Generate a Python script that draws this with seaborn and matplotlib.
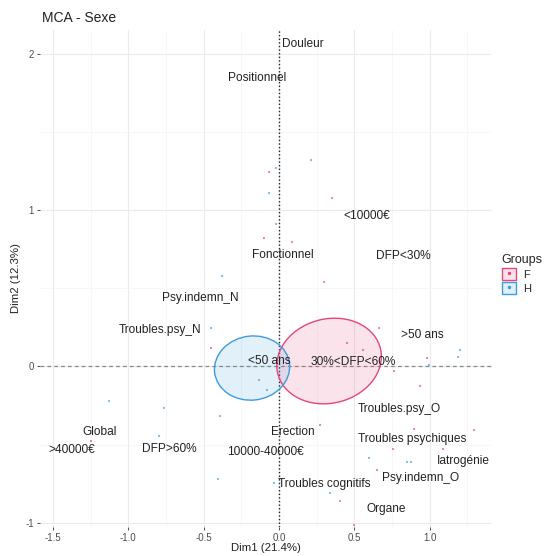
import matplotlib
matplotlib.use("Agg")
import matplotlib.pyplot as plt
import seaborn as sns
import pandas as pd
from matplotlib.patches import Ellipse, Patch
from matplotlib.lines import Line2D

# Variable categories (MCA coordinates on Dim1 / Dim2)
cat_labels = ["Douleur", "Positionnel", "<10000€", "Fonctionnel", "DFP<30%",
              "Psy.indemn_N", "Troubles.psy_N", ">50 ans", "<50 ans", "30%<DFP<60%",
              "Troubles.psy_O", "Global", "Erection", "Troubles psychiques", ">40000€",
              "DFP>60%", "10000-40000€", "Iatrogénie", "Troubles cognitifs",
              "Psy.indemn_O", "Organe"]
cat_dim1 = [0.159, -0.146, 0.584, 0.026, 0.823, -0.524, -0.790, 0.949, -0.066, 0.491,
            0.796, -1.188, 0.093, 0.883, -1.374, -0.730, -0.093, 1.221, 0.299,
            0.936, 0.710]
cat_dim2 = [2.063, 1.846, 0.963, 0.713, 0.707, 0.438, 0.234, 0.201, 0.035, 0.029,
            -0.272, -0.419, -0.419, -0.464, -0.534, -0.528, -0.547, -0.605, -0.749,
            -0.713, -0.912]

# Individuals coloured by sex
ind_dim1 = [0.212, -0.066, -0.020, -0.066, 0.352, -0.020, -0.100, -0.378, 0.299, -0.451,
            -0.451, -0.133, -0.080, -0.392, -0.405, -1.128, -0.763, -1.248, -0.796, 0.451,
            0.664, 0.557, 0.982, 0.995, 1.201, 1.188, 0.763, 0.936, 0.272, 0.896,
            1.294, 0.756, 1.088, 0.597, 0.849, 0.876, 0.650, 0.338, 0.405, -0.033,
            0.498, 0.086]
ind_dim2 = [1.321, 1.244, 1.270, 1.110, 1.078, 0.912, 0.822, 0.579, 0.541, 0.246,
            0.118, -0.086, -0.150, -0.317, -0.720, -0.221, -0.265, -0.477, -0.444, 0.150,
            0.246, 0.106, 0.054, 0.010, 0.106, 0.061, -0.029, -0.125, -0.374, -0.400,
            -0.406, -0.528, -0.528, -0.585, -0.611, -0.611, -0.662, -0.809, -0.861, -0.745,
            -1.014, 0.796]
ind_group = ["H", "F", "H", "H", "F", "H", "F", "H", "F", "H",
             "F", "H", "H", "H", "H", "H", "H", "F", "H", "F",
             "F", "F", "F", "H", "H", "H", "F", "F", "F", "F",
             "F", "F", "F", "H", "H", "H", "F", "H", "F", "H",
             "F", "F"]

# Confidence ellipses per group: centre, width, height, angle
groups = ["F", "H"]
ell_cx = [0.332, -0.179]
ell_cy = [0.035, -0.010]
ell_w = [0.70, 0.50]
ell_h = [0.54, 0.41]
ell_angle = [12, 6]
group_colors = {"F": "#E5457D", "H": "#3D9BE0"}

sns.set_theme(style="whitegrid")
plt.rcParams['font.family'] = ['Liberation Sans', 'DejaVu Sans']

fig = plt.figure(figsize=(5.5, 5.56), dpi=100)
ax = fig.add_axes([40 / 550, 1 - 527 / 556, 452 / 550, 497 / 556])

ind = pd.DataFrame({"Dim1": ind_dim1, "Dim2": ind_dim2, "Groups": ind_group})

# ellipses
for g, cx, cy, w, h, a in zip(groups, ell_cx, ell_cy, ell_w, ell_h, ell_angle):
    c = group_colors[g]
    ax.add_patch(Ellipse((cx, cy), w, h, angle=a, facecolor=c, alpha=0.15,
                         edgecolor="none", zorder=2))
    ax.add_patch(Ellipse((cx, cy), w, h, angle=a, facecolor="none",
                         edgecolor=c, lw=1.0, zorder=3))

sns.scatterplot(data=ind, x="Dim1", y="Dim2", hue="Groups", palette=group_colors,
                s=2.5, linewidth=0, alpha=0.7, legend=False, ax=ax, zorder=4)

# reference lines
ax.axhline(0, color="#888888", lw=0.9, ls=(0, (3, 2.5)), zorder=1)
ax.axvline(0, color="#222222", lw=1.0, ls=(0, (1, 1.6)), zorder=1)

for lab, x, y in zip(cat_labels, cat_dim1, cat_dim2):
    ax.text(x, y, lab, ha="center", va="center", fontsize=8.6, color="#222222", zorder=5)

ax.set_xlim(-1.586, 1.413)
ax.set_ylim(-1.027, 2.153)
ax.set_xticks([-1.5, -1.0, -0.5, 0.0, 0.5, 1.0])
ax.set_xticklabels(["-1.5", "-1.0", "-0.5", "0.0", "0.5", "1.0"])
ax.set_yticks([-1, 0, 1, 2])
ax.set_yticklabels(["-1", "0", "1", "2"])
ax.set_xticks([-1.25, -0.75, -0.25, 0.25, 0.75, 1.25], minor=True)
ax.set_yticks([-0.5, 0.5, 1.5], minor=True)
ax.grid(which="major", color="#EBEBEB", lw=0.8)
ax.grid(which="minor", color="#F4F4F4", lw=0.5)
for s in ax.spines.values():
    s.set_visible(False)
ax.tick_params(axis="both", which="major", labelsize=7, colors="#4D4D4D",
               length=2.5, width=0.7, pad=2, bottom=True, left=True)
ax.tick_params(which="minor", length=0)
ax.set_xlabel("Dim1 (21.4%)", fontsize=8.2, color="#222222", labelpad=0)
ax.set_ylabel("Dim2 (12.3%)", fontsize=8.2, color="#222222", labelpad=3)
ax.set_title("MCA - Sexe", loc="left", fontsize=10, color="#222222", pad=6, x=0.005)

handles = []
for g in groups:
    c = group_colors[g]
    handles.append((Patch(facecolor=c, alpha=0.15, edgecolor="none"),
                    Patch(facecolor="none", edgecolor=c, lw=1.0),
                    Line2D([], [], marker="o", ls="", ms=1.5, color=c)))
leg = fig.legend(handles, groups, title="Groups", loc="upper left",
                 bbox_to_anchor=(494 / 550, 1 - 246 / 556), frameon=False,
                 fontsize=8, title_fontsize=9, handlelength=1.3, handleheight=1.3,
                 handletextpad=0.6, labelspacing=0.2, borderpad=0.2)
leg._legend_box.align = "left"

fig.savefig("out.png", dpi=100, facecolor="white")
